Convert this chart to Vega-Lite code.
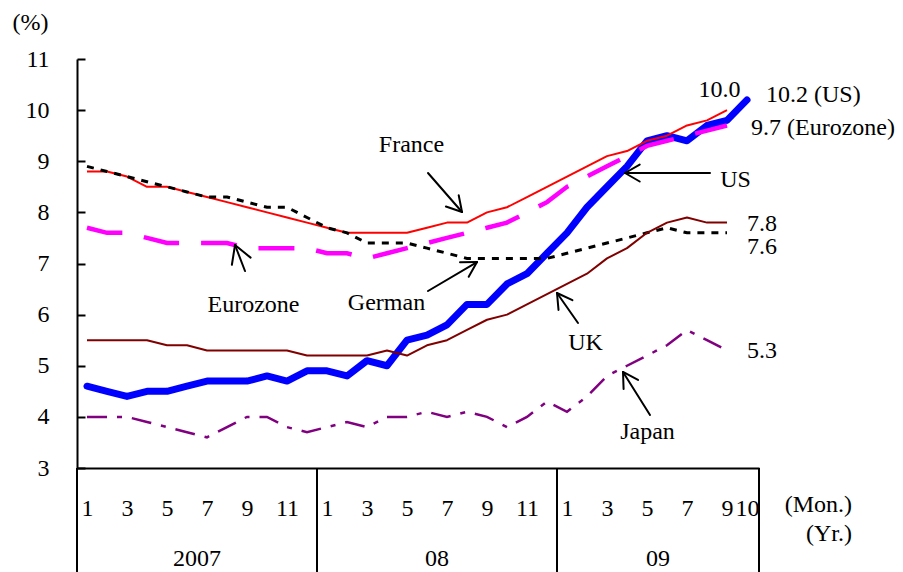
{
  "$schema": "https://vega.github.io/schema/vega-lite/v6.json",
  "width": 682,
  "height": 409,
  "autosize": {"type": "none"},
  "padding": {"left": 77, "top": 59, "right": 144, "bottom": 104},
  "background": "white",
  "config": {
    "view": {"stroke": null},
    "font": "Liberation Serif",
    "axis": {"labelFont": "Liberation Serif", "labelFontSize": 24, "labelColor": "black", "domainColor": "black", "domainWidth": 2, "tickColor": "black", "tickWidth": 2, "grid": false, "titleFont": "Liberation Serif", "titleFontSize": 24, "titleFontWeight": "normal", "titleColor": "black"},
    "axisY": {"tickSize": -8, "labelPadding": 36, "titleAngle": 0, "titleX": -65, "titleY": -30, "titleAlign": "left", "titleBaseline": "alphabetic"},
    "axisX": {"ticks": false, "labelPadding": 47, "labelBaseline": "alphabetic", "labelOverlap": false, "labelFlush": false},
    "text": {"font": "Liberation Serif", "fontSize": 24, "color": "black", "baseline": "alphabetic"}
  },
  "datasets": {
    "rates": [
      {"t": 1, "US": 4.6, "EZ": 7.7, "FR": 8.8, "DE": 8.9, "UK": 5.5, "JP": 4.0},
      {"t": 2, "US": 4.5, "EZ": 7.6, "FR": 8.8, "DE": 8.8, "UK": 5.5, "JP": 4.0},
      {"t": 3, "US": 4.4, "EZ": 7.6, "FR": 8.7, "DE": 8.7, "UK": 5.5, "JP": 4.0},
      {"t": 4, "US": 4.5, "EZ": 7.5, "FR": 8.5, "DE": 8.6, "UK": 5.5, "JP": 3.9},
      {"t": 5, "US": 4.5, "EZ": 7.4, "FR": 8.5, "DE": 8.5, "UK": 5.4, "JP": 3.8},
      {"t": 6, "US": 4.6, "EZ": 7.4, "FR": 8.4, "DE": 8.4, "UK": 5.4, "JP": 3.7},
      {"t": 7, "US": 4.7, "EZ": 7.4, "FR": 8.3, "DE": 8.3, "UK": 5.3, "JP": 3.6},
      {"t": 8, "US": 4.7, "EZ": 7.4, "FR": 8.2, "DE": 8.3, "UK": 5.3, "JP": 3.8},
      {"t": 9, "US": 4.7, "EZ": 7.3, "FR": 8.1, "DE": 8.2, "UK": 5.3, "JP": 4.0},
      {"t": 10, "US": 4.8, "EZ": 7.3, "FR": 8.0, "DE": 8.1, "UK": 5.3, "JP": 4.0},
      {"t": 11, "US": 4.7, "EZ": 7.3, "FR": 7.9, "DE": 8.1, "UK": 5.3, "JP": 3.8},
      {"t": 12, "US": 4.9, "EZ": 7.3, "FR": 7.8, "DE": 7.9, "UK": 5.2, "JP": 3.7},
      {"t": 13, "US": 4.9, "EZ": 7.2, "FR": 7.7, "DE": 7.7, "UK": 5.2, "JP": 3.8},
      {"t": 14, "US": 4.8, "EZ": 7.2, "FR": 7.6, "DE": 7.6, "UK": 5.2, "JP": 3.9},
      {"t": 15, "US": 5.1, "EZ": 7.1, "FR": 7.6, "DE": 7.4, "UK": 5.2, "JP": 3.8},
      {"t": 16, "US": 5.0, "EZ": 7.2, "FR": 7.6, "DE": 7.4, "UK": 5.3, "JP": 4.0},
      {"t": 17, "US": 5.5, "EZ": 7.3, "FR": 7.6, "DE": 7.4, "UK": 5.2, "JP": 4.0},
      {"t": 18, "US": 5.6, "EZ": 7.4, "FR": 7.7, "DE": 7.3, "UK": 5.4, "JP": 4.1},
      {"t": 19, "US": 5.8, "EZ": 7.5, "FR": 7.8, "DE": 7.2, "UK": 5.5, "JP": 4.0},
      {"t": 20, "US": 6.2, "EZ": 7.6, "FR": 7.8, "DE": 7.1, "UK": 5.7, "JP": 4.1},
      {"t": 21, "US": 6.2, "EZ": 7.7, "FR": 8.0, "DE": 7.1, "UK": 5.9, "JP": 4.0},
      {"t": 22, "US": 6.6, "EZ": 7.8, "FR": 8.1, "DE": 7.1, "UK": 6.0, "JP": 3.8},
      {"t": 23, "US": 6.8, "EZ": 8.0, "FR": 8.3, "DE": 7.1, "UK": 6.2, "JP": 4.0},
      {"t": 24, "US": 7.2, "EZ": 8.2, "FR": 8.5, "DE": 7.1, "UK": 6.4, "JP": 4.3},
      {"t": 25, "US": 7.6, "EZ": 8.5, "FR": 8.7, "DE": 7.2, "UK": 6.6, "JP": 4.1},
      {"t": 26, "US": 8.1, "EZ": 8.7, "FR": 8.9, "DE": 7.3, "UK": 6.8, "JP": 4.4},
      {"t": 27, "US": 8.5, "EZ": 8.9, "FR": 9.1, "DE": 7.4, "UK": 7.1, "JP": 4.8},
      {"t": 28, "US": 8.9, "EZ": 9.1, "FR": 9.2, "DE": 7.5, "UK": 7.3, "JP": 5.0},
      {"t": 29, "US": 9.4, "EZ": 9.3, "FR": 9.4, "DE": 7.6, "UK": 7.6, "JP": 5.2},
      {"t": 30, "US": 9.5, "EZ": 9.4, "FR": 9.5, "DE": 7.7, "UK": 7.8, "JP": 5.4},
      {"t": 31, "US": 9.4, "EZ": 9.5, "FR": 9.7, "DE": 7.6, "UK": 7.9, "JP": 5.7},
      {"t": 32, "US": 9.7, "EZ": 9.6, "FR": 9.8, "DE": 7.6, "UK": 7.8, "JP": 5.5},
      {"t": 33, "US": 9.8, "EZ": 9.7, "FR": 10.0, "DE": 7.6, "UK": 7.8, "JP": 5.3},
      {"t": 34, "US": 10.2, "EZ": null, "FR": null, "DE": null, "UK": null, "JP": null}
    ],
    "arrows": [
      {"t": 18.05, "v": 8.77, "t2": 19.75, "v2": 8.007},
      {"t": 19.75, "v": 8.007, "t2": 19.585, "v2": 8.334},
      {"t": 19.75, "v": 8.007, "t2": 18.945, "v2": 8.115},
      {"t": 32.15, "v": 8.77, "t2": 27.9, "v2": 8.77},
      {"t": 27.9, "v": 8.77, "t2": 28.635, "v2": 8.604},
      {"t": 27.9, "v": 8.77, "t2": 28.635, "v2": 8.936},
      {"t": 18.05, "v": 6.462, "t2": 20.5, "v2": 7.029},
      {"t": 20.5, "v": 7.029, "t2": 19.65, "v2": 7.025},
      {"t": 20.5, "v": 7.029, "t2": 20.085, "v2": 6.74},
      {"t": 25.55, "v": 5.836, "t2": 24.5, "v2": 6.423},
      {"t": 24.5, "v": 6.423, "t2": 24.575, "v2": 6.092},
      {"t": 24.5, "v": 6.423, "t2": 25.27, "v2": 6.282},
      {"t": 29.15, "v": 4.037, "t2": 27.8, "v2": 4.878},
      {"t": 27.8, "v": 4.878, "t2": 27.83, "v2": 4.545},
      {"t": 27.8, "v": 4.878, "t2": 28.55, "v2": 4.723},
      {"t": 8.9, "v": 6.853, "t2": 8.4, "v2": 7.362},
      {"t": 8.4, "v": 7.362, "t2": 8.245, "v2": 6.975},
      {"t": 8.4, "v": 7.362, "t2": 9.18, "v2": 7.115}
    ],
    "dividers": [
      {"t": 0.5, "v": 3, "v2": 0.96},
      {"t": 12.5, "v": 3, "v2": 0.96},
      {"t": 24.5, "v": 3, "v2": 0.96},
      {"t": 34.6, "v": 3, "v2": 0.96}
    ],
    "callouts": [
      {"t": 17.225, "v": 9.18, "text": "France"},
      {"t": 33.425, "v": 8.5, "text": "US"},
      {"t": 15.975, "v": 6.09, "text": "German"},
      {"t": 9.325, "v": 6.05, "text": "Eurozone"},
      {"t": 25.925, "v": 5.31, "text": "UK"},
      {"t": 29.025, "v": 3.57, "text": "Japan"},
      {"t": 32.625, "v": 10.257, "text": "10.0"},
      {"t": 6.5, "v": 1.083, "text": "2007"},
      {"t": 18.5, "v": 1.083, "text": "08"},
      {"t": 29.55, "v": 1.083, "text": "09"}
    ],
    "ends": [
      {"t": 34.95, "v": 10.159, "text": "10.2 (US)"},
      {"t": 34.2, "v": 9.51, "text": "9.7 (Eurozone)"},
      {"t": 34.0, "v": 7.64, "text": "7.8"},
      {"t": 34.0, "v": 7.19, "text": "7.6"},
      {"t": 34.0, "v": 5.15, "text": "5.3"}
    ],
    "units": [
      {"t": 39.25, "v": 2.139, "text": "(Mon.)"},
      {"t": 39.25, "v": 1.572, "text": "(Yr.)"}
    ]
  },
  "encoding": {
    "x": {
      "field": "t",
      "type": "quantitative",
      "scale": {"domain": [0.5, 34.6], "nice": false, "zero": false},
      "axis": {
        "values": [1, 3, 5, 7, 9, 11, 13, 15, 17, 19, 21, 23, 25, 27, 29, 31, 33, 34],
        "labelExpr": "datum.value <= 12 ? datum.value : (datum.value <= 24 ? datum.value - 12 : datum.value - 24)",
        "title": null
      }
    }
  },
  "layer": [
    {
      "data": {"name": "rates"},
      "mark": {"type": "line", "color": "#0000FF", "strokeWidth": 7, "strokeCap": "round", "strokeJoin": "round"},
      "encoding": {"y": {"field": "US", "type": "quantitative", "scale": {"domain": [3, 11], "nice": false, "zero": false}, "axis": {"values": [3, 4, 5, 6, 7, 8, 9, 10, 11], "title": "(%)"}}}
    },
    {
      "data": {"name": "rates"},
      "mark": {"type": "line", "color": "#FF00FF", "strokeWidth": 4.5, "strokeDash": [36, 22]},
      "encoding": {"y": {"field": "EZ", "type": "quantitative", "scale": {"domain": [3, 11], "nice": false, "zero": false}, "axis": {"values": [3, 4, 5, 6, 7, 8, 9, 10, 11], "title": "(%)"}}}
    },
    {
      "data": {"name": "rates"},
      "mark": {"type": "line", "color": "#FF0000", "strokeWidth": 2, "strokeJoin": "round"},
      "encoding": {"y": {"field": "FR", "type": "quantitative", "scale": {"domain": [3, 11], "nice": false, "zero": false}, "axis": {"values": [3, 4, 5, 6, 7, 8, 9, 10, 11], "title": "(%)"}}}
    },
    {
      "data": {"name": "rates"},
      "mark": {"type": "line", "color": "#000000", "strokeWidth": 3, "strokeDash": [7, 7]},
      "encoding": {"y": {"field": "DE", "type": "quantitative", "scale": {"domain": [3, 11], "nice": false, "zero": false}, "axis": {"values": [3, 4, 5, 6, 7, 8, 9, 10, 11], "title": "(%)"}}}
    },
    {
      "data": {"name": "rates"},
      "mark": {"type": "line", "color": "#800000", "strokeWidth": 2, "strokeJoin": "round"},
      "encoding": {"y": {"field": "UK", "type": "quantitative", "scale": {"domain": [3, 11], "nice": false, "zero": false}, "axis": {"values": [3, 4, 5, 6, 7, 8, 9, 10, 11], "title": "(%)"}}}
    },
    {
      "data": {"name": "rates"},
      "mark": {"type": "line", "color": "#800080", "strokeWidth": 2.5, "strokeDash": [20, 10, 5, 10]},
      "encoding": {"y": {"field": "JP", "type": "quantitative", "scale": {"domain": [3, 11], "nice": false, "zero": false}, "axis": {"values": [3, 4, 5, 6, 7, 8, 9, 10, 11], "title": "(%)"}}}
    },
    {
      "data": {"name": "arrows"},
      "mark": {"type": "rule", "color": "black", "strokeWidth": 2, "strokeCap": "round"},
      "encoding": {
        "y": {"field": "v", "type": "quantitative", "scale": {"domain": [3, 11], "nice": false, "zero": false}, "axis": {"values": [3, 4, 5, 6, 7, 8, 9, 10, 11], "title": "(%)"}},
        "x2": {"field": "t2"},
        "y2": {"field": "v2"}
      }
    },
    {
      "data": {"name": "dividers"},
      "mark": {"type": "rule", "color": "black", "strokeWidth": 2},
      "encoding": {
        "y": {"field": "v", "type": "quantitative", "scale": {"domain": [3, 11], "nice": false, "zero": false}, "axis": {"values": [3, 4, 5, 6, 7, 8, 9, 10, 11], "title": "(%)"}},
        "y2": {"field": "v2"}
      }
    },
    {
      "data": {"name": "callouts"},
      "mark": {"type": "text", "align": "center"},
      "encoding": {
        "y": {"field": "v", "type": "quantitative", "scale": {"domain": [3, 11], "nice": false, "zero": false}, "axis": {"values": [3, 4, 5, 6, 7, 8, 9, 10, 11], "title": "(%)"}},
        "text": {"field": "text"}
      }
    },
    {
      "data": {"name": "ends"},
      "mark": {"type": "text", "align": "left"},
      "encoding": {
        "y": {"field": "v", "type": "quantitative", "scale": {"domain": [3, 11], "nice": false, "zero": false}, "axis": {"values": [3, 4, 5, 6, 7, 8, 9, 10, 11], "title": "(%)"}},
        "text": {"field": "text"}
      }
    },
    {
      "data": {"name": "units"},
      "mark": {"type": "text", "align": "right"},
      "encoding": {
        "y": {"field": "v", "type": "quantitative", "scale": {"domain": [3, 11], "nice": false, "zero": false}, "axis": {"values": [3, 4, 5, 6, 7, 8, 9, 10, 11], "title": "(%)"}},
        "text": {"field": "text"}
      }
    }
  ]
}
